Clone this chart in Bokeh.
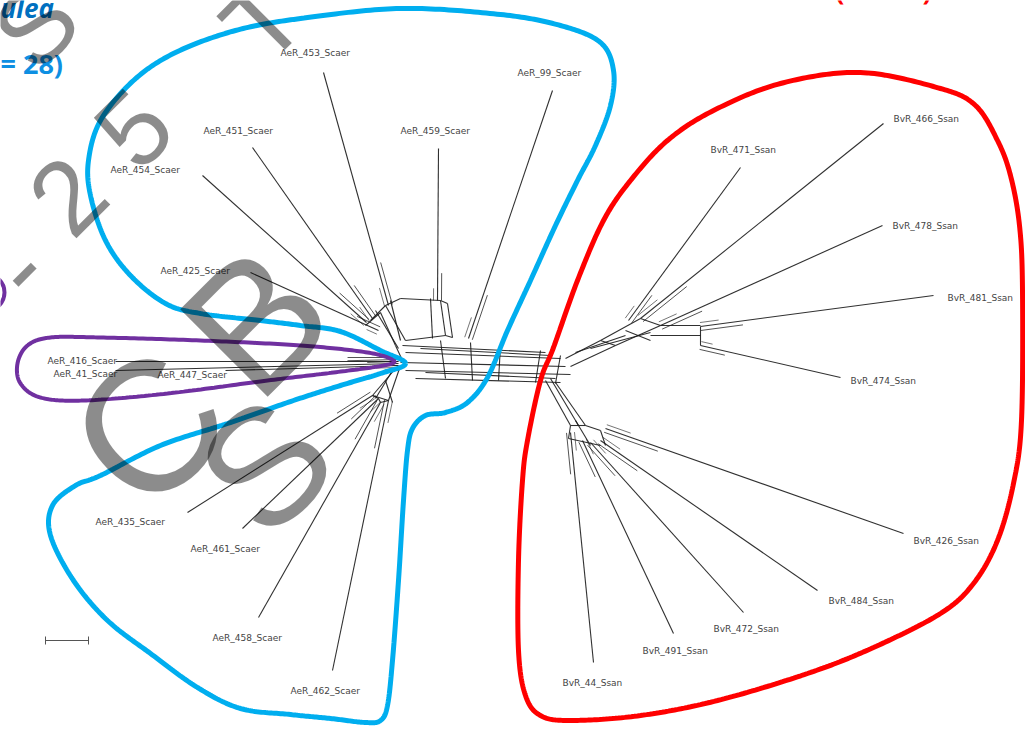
import numpy as np
from bokeh.plotting import figure
from bokeh.models import Range1d, ColumnDataSource
from bokeh.embed import file_html
from bokeh.resources import INLINE
from bokeh.core.properties import value

# ---------------- data ----------------
leaf_names = ["AeR_453_Scaer", "AeR_99_Scaer", "AeR_459_Scaer", "AeR_451_Scaer", "AeR_454_Scaer",
              "AeR_425_Scaer", "AeR_416_Scaer", "AeR_41_Scaer", "AeR_447_Scaer", "AeR_435_Scaer",
              "AeR_461_Scaer", "AeR_458_Scaer", "AeR_462_Scaer",
              "BvR_466_Ssan", "BvR_471_Ssan", "BvR_478_Ssan", "BvR_481_Ssan", "BvR_474_Ssan",
              "BvR_426_Ssan", "BvR_484_Ssan", "BvR_472_Ssan", "BvR_491_Ssan", "BvR_44_Ssan"]
label_x = [280, 517, 400, 203, 110, 160, 47, 53, 157, 95, 190, 212, 290,
           893, 710, 892, 947, 850, 913, 828, 713, 642, 562]
label_y = [52, 72, 130, 130, 169, 270, 360, 373, 374, 521, 548, 637, 690,
           118, 149, 225, 297, 380, 540, 600, 628, 650, 682]
tip_x = [323, 552, 438, 252, 202, 250, 115, 115, 225, 187, 242, 258, 332,
         883, 740, 882, 933, 840, 903, 817, 743, 673, 593]
tip_y = [72, 90, 148, 147, 175, 272, 361, 370, 370, 512, 528, 617, 670,
         123, 167, 225, 295, 377, 533, 590, 612, 633, 662]
base_x = [388, 468, 437, 372, 366, 378, 398, 398, 398, 372, 378, 380, 388,
          640, 628, 660, 700, 700, 605, 600, 590, 582, 570]
base_y = [305, 338, 300, 318, 322, 330, 361, 363, 365, 395, 398, 402, 400,
          318, 320, 325, 326, 345, 428, 440, 442, 440, 432]

# internal splits network (segments)
net_x0 = [385, 400, 440, 445, 405, 380, 395, 440, 447, 452, 370, 365, 375, 390, 430,
          402, 405, 400, 405, 415, 420, 425, 440, 470, 540, 560, 500,
          565, 570, 600, 615, 640, 600, 660, 650, 700, 575, 590, 625,
          545, 555, 570, 570, 585, 568, 600, 550, 575,
          400, 395, 388, 372, 378, 380, 392, 385]
net_y0 = [305, 298, 300, 335, 340, 312, 345, 300, 303, 337, 320, 325, 310, 300, 298,
          345, 352, 362, 370, 378, 348, 372, 340, 342, 350, 355, 345,
          358, 366, 340, 345, 318, 340, 325, 335, 326, 352, 348, 330,
          380, 382, 425, 425, 425, 438, 430, 378, 420,
          365, 368, 400, 395, 398, 402, 370, 380]
net_x1 = [400, 440, 445, 405, 385, 395, 402, 447, 452, 445, 385, 380, 398, 400, 432,
          545, 560, 565, 570, 560, 550, 555, 445, 472, 535, 555, 498,
          600, 615, 640, 660, 660, 615, 700, 700, 700, 625, 650, 650,
          570, 585, 585, 568, 600, 600, 605, 578, 590,
          388, 372, 372, 378, 380, 388, 375, 392]
net_y1 = [298, 300, 335, 340, 305, 345, 360, 303, 337, 335, 305, 312, 348, 340, 338,
          352, 358, 366, 374, 382, 355, 378, 378, 380, 382, 383, 380,
          340, 345, 318, 325, 325, 345, 325, 335, 345, 335, 332, 340,
          425, 425, 425, 438, 430, 445, 445, 425, 445,
          400, 395, 395, 398, 402, 400, 398, 402]

blue_outline_x = [405, 380, 340, 300, 260, 200, 165, 130, 105, 90, 88, 100, 133, 175, 235, 300, 400, 500,
                  560, 600, 613, 610, 595, 577, 555, 530, 507, 487, 467, 445, 425, 412, 407, 403, 398,
                  392, 387, 380, 365, 330, 290, 240, 197, 150, 107, 73, 50, 52, 75, 100, 160, 227, 293,
                  340, 380]
blue_outline_y = [363, 350, 331, 325, 320, 313, 303, 275, 240, 195, 160, 120, 80, 52, 30, 18, 8, 14,
                  25, 42, 70, 105, 145, 180, 225, 280, 330, 377, 402, 412, 415, 428, 450, 500, 580,
                  660, 705, 720, 722, 718, 714, 708, 687, 653, 620, 580, 535, 505, 485, 475, 445, 423, 400,
                  385, 373]
purple_outline_x = [393, 367, 300, 200, 100, 50, 27, 17, 20, 40, 83, 167, 267, 333, 383]
purple_outline_y = [360, 352, 345, 340, 337, 337, 345, 363, 383, 397, 400, 393, 380, 372, 365]
red_outline_x = [630, 667, 713, 780, 860, 940, 975, 997, 1010, 1019, 1022, 1021, 1013, 997, 973, 940,
                 873, 807, 717, 640, 570, 540, 525, 518, 518, 522, 527, 540, 553, 577, 603]
red_outline_y = [180, 140, 110, 83, 72, 88, 105, 140, 175, 225, 290, 420, 483, 540, 583, 613,
                 647, 673, 700, 715, 720, 715, 695, 650, 560, 480, 440, 380, 347, 280, 220]

wm_chars = ["-", "2", "5", "T", "S", "C", "B", "S"]
wm_x = [18, 67, 133, 262, 35, 148, 255, 265]
wm_y = [268, 195, 128, 20, 25, 428, 320, 465]
wm_size = ["105px", "105px", "105px", "105px", "105px", "185px", "180px", "165px"]


def closed_spline(xs, ys, n=24):
    P = np.column_stack([xs, ys]).astype(float)
    N = len(P)
    t = np.linspace(0, 1, n, endpoint=False)[:, None]
    segs = []
    for i in range(N):
        p0, p1, p2, p3 = P[(i - 1) % N], P[i], P[(i + 1) % N], P[(i + 2) % N]
        segs.append(0.5 * (2 * p1 + (-p0 + p2) * t + (2 * p0 - 5 * p1 + 4 * p2 - p3) * t ** 2
                           + (-p0 + 3 * p1 - 3 * p2 + p3) * t ** 3))
    out = np.vstack(segs + [P[:1]])
    return out[:, 0], out[:, 1]


p = figure(width=1025, height=731, output_backend="svg", toolbar_location=None,
           x_range=Range1d(0, 1025), y_range=Range1d(731, 0),
           min_border=0, min_border_left=0, min_border_right=0, min_border_top=0, min_border_bottom=0)
p.axis.visible = False
p.grid.visible = False
p.outline_line_color = None
p.background_fill_color = "white"

# network
p.segment(x0=net_x0, y0=net_y0, x1=net_x1, y1=net_y1, line_color="#1a1a1a", line_width=1.1, line_alpha=0.9)
p.segment(x0=tip_x, y0=tip_y, x1=base_x, y1=base_y, line_color="#1a1a1a", line_width=1.1, line_alpha=0.9)
bx = np.array(base_x, float); by = np.array(base_y, float)
tx = np.array(tip_x, float); ty = np.array(tip_y, float)
dx, dy = tx - bx, ty - by
L = np.hypot(dx, dy)
ox, oy = -dy / L * 4, dx / L * 4
p.segment(x0=bx + ox, y0=by + oy, x1=bx + ox + dx * 0.18, y1=by + oy + dy * 0.18,
          line_color="#1a1a1a", line_width=1, line_alpha=0.75)
p.segment(x0=bx - ox, y0=by - oy, x1=bx - ox + dx * 0.08, y1=by - oy + dy * 0.08,
          line_color="#1a1a1a", line_width=1, line_alpha=0.6)

# scale bar
p.segment(x0=[45], y0=[640], x1=[88], y1=[640], line_color="#555555", line_width=1)
p.segment(x0=[45, 88], y0=[636, 636], x1=[45, 88], y1=[644, 644], line_color="#555555", line_width=1)

src = ColumnDataSource(dict(x=label_x, y=label_y, t=leaf_names))
p.text(x="x", y="y", text="t", source=src, text_font=value("DejaVu Sans"), text_font_size="9px",
       text_color="#444444", text_baseline="middle", text_align="left")

# outlines
bxs, bys = closed_spline(blue_outline_x, blue_outline_y)
p.line(bxs, bys, line_color="#00AEEF", line_width=5)
pxs, pys = closed_spline(purple_outline_x, purple_outline_y)
p.line(pxs, pys, line_color="#7030A0", line_width=4)
rxs, rys = closed_spline(red_outline_x, red_outline_y)
p.line(rxs, rys, line_color="#FF0000", line_width=5)
p.circle(x=[-14], y=[292], radius=18, fill_color=None, line_color="#7030A0", line_width=4)

# titles (cropped in the reference)
p.text(x=[0], y=[7], text=["ulea"], text_font=value("Open Sans"), text_font_size="26px",
       text_font_style="bold italic", text_color="#0070C0", text_align="left", text_baseline="alphabetic")
p.text(x=[0], y=[63], text=["= 28)"], text_font=value("Open Sans"), text_font_size="27px",
       text_font_style="bold", text_color="#0E8FE2", text_align="left", text_baseline="alphabetic")
p.text(x=[883], y=[-11], text=["(n = 16)"], text_font=value("Open Sans"), text_font_size="27px",
       text_font_style="bold", text_color="#FF0000", text_align="center", text_baseline="alphabetic")

# watermark
wsrc = ColumnDataSource(dict(x=wm_x, y=wm_y, t=wm_chars, s=wm_size))
p.text(x="x", y="y", text="t", source=wsrc, angle=np.pi / 4, text_font=value("Liberation Sans"),
       text_font_size="s", text_color="#000000", text_alpha=0.45,
       text_align="center", text_baseline="middle")

open("out.html", "w").write(file_html(p, INLINE))
